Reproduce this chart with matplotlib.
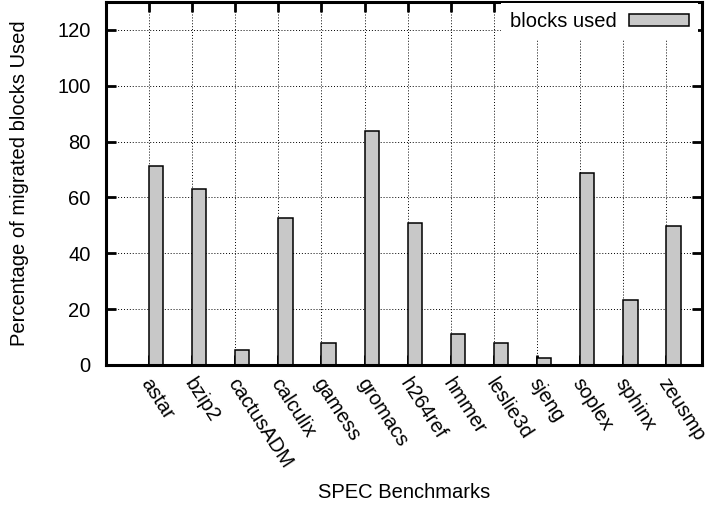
import matplotlib
matplotlib.use("Agg")
import matplotlib.pyplot as plt
from matplotlib.patches import Rectangle
from matplotlib.transforms import ScaledTranslation
import numpy as np

benchmarks = ["astar", "bzip2", "cactusADM", "calculix", "gamess", "gromacs",
              "h264ref", "hmmer", "leslie3d", "sjeng", "soplex", "sphinx", "zeusmp"]
blocks_used = [71.3, 63.2, 5.3, 52.7, 7.8, 83.7, 50.7, 11.0, 8.0, 2.6, 68.9, 23.3, 49.8]
y_ticks = [0, 20, 40, 60, 80, 100, 120]
series_name = "blocks used"

plt.rcParams["font.family"] = ["Liberation Sans", "DejaVu Sans"]
FS = 14.5

fig = plt.figure(figsize=(7.06, 5.08), dpi=100)
ax = fig.add_axes([0.150, 0.2815, 0.844, 0.7145])

x = np.arange(len(benchmarks))
bar_w = 0.33
fill = "#c8c8c8"
ax.bar(x, blocks_used, width=bar_w, align="edge", color=fill,
       edgecolor="black", linewidth=1.1, zorder=2)

ax.set_xlim(-1.0, 12.82)
ax.set_ylim(0, 130)
ax.set_xticks(x)
ax.set_yticks(y_ticks)

ax.tick_params(axis="both", direction="in", length=7, width=2,
               top=True, right=True, labeltop=False, labelright=False)
ax.tick_params(axis="y", pad=11)
ax.tick_params(axis="x", pad=6)

ax.set_xticklabels(benchmarks, rotation=-57, ha="left", va="top",
                   rotation_mode="anchor", fontsize=FS)
ax.set_yticklabels([str(v) for v in y_ticks], fontsize=FS)

# nudge the slanted category names a little right and down
shift = ScaledTranslation(4 / 100, -1 / 100, fig.dpi_scale_trans)
for lbl in ax.get_xticklabels():
    lbl.set_transform(lbl.get_transform() + shift)

for s in ax.spines.values():
    s.set_linewidth(2.2)

ax.set_axisbelow(True)
ax.grid(True, color="black", linestyle=(0, (1, 2)), linewidth=0.7)

ax.set_xlabel("SPEC Benchmarks", fontsize=FS)
ax.xaxis.label.set_va("center")
ax.xaxis.set_label_coords(0.5, -0.35)
ax.set_ylabel("Percentage of migrated blocks Used", fontsize=FS)
ax.yaxis.label.set_va("center")
ax.yaxis.set_label_coords(-0.1444, 0.5)

handle = Rectangle((0, 0), 1, 1, facecolor=fill, edgecolor="black", linewidth=1.1)
leg = ax.legend([handle], [series_name], loc="upper right",
                bbox_to_anchor=(0.993, 0.997), markerfirst=False,
                fontsize=FS, handlelength=2.95, handleheight=0.6,
                handletextpad=0.6, borderpad=0.45, borderaxespad=0,
                frameon=True, fancybox=False, framealpha=1.0)
leg.get_frame().set_edgecolor("none")
leg.get_frame().set_facecolor("white")
leg.set_zorder(5)

fig.savefig("out.png", dpi=100)
